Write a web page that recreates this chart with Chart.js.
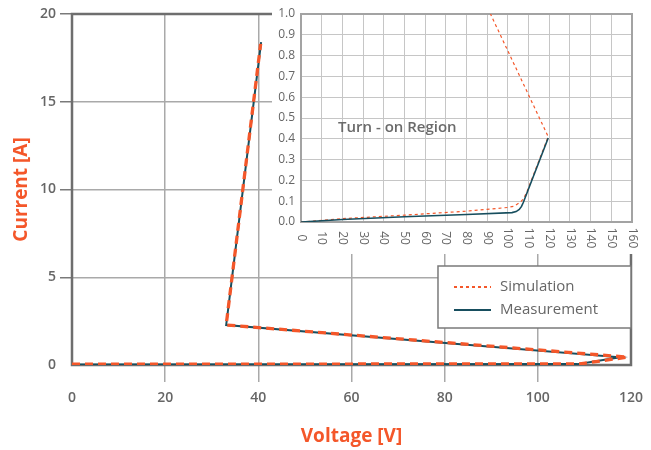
<!DOCTYPE html>
<html><head><meta charset="utf-8">
<script src="https://cdn.jsdelivr.net/npm/chart.js@4.4.0/dist/chart.umd.min.js"></script>
<style>
html,body{margin:0;padding:0;background:#fff;}
#wrap{position:relative;width:651px;height:450px;overflow:hidden;}
#main{position:absolute;left:0;top:0;}
#insetWrap{position:absolute;left:272px;top:0;width:379px;height:254px;background:#fff;}
#inset{position:absolute;left:0;top:0;}
</style></head><body>
<div id="wrap">
<canvas id="main" width="651" height="450"></canvas>
<div id="insetWrap"><canvas id="inset" width="379" height="254"></canvas></div>
</div>
<script>
// ---------- data ----------
const mainSimVoltage  = [0, 109, 119.2, 33.1, 40.5];
const mainSimCurrent  = [0.05, 0.06, 0.45, 2.28, 18.3];
const mainMeasVoltage = [0, 108.5, 117.6, 33.1, 40.6];
const mainMeasCurrent = [0.03, 0.05, 0.44, 2.28, 18.4];

const insetSimVoltage  = [0, 20, 50, 80, 100, 103, 106, 107.4, 109, 119.5, 91.6];
const insetSimCurrent  = [0, 0.016, 0.033, 0.052, 0.07, 0.076, 0.095, 0.11, 0.14, 0.41, 1.0];
const insetMeasVoltage = [0, 20, 50, 80, 102, 104, 105.5, 106.6, 107.5, 119.5];
const insetMeasCurrent = [0, 0.012, 0.025, 0.036, 0.045, 0.05, 0.06, 0.075, 0.095, 0.404];

const mainXTicks = [0, 20, 40, 60, 80, 100, 120];
const mainYTicks = [0, 5, 10, 15, 20];
const insetXTicks = [0,10,20,30,40,50,60,70,80,90,100,110,120,130,140,150,160];
const insetYTicks = [0,0.1,0.2,0.3,0.4,0.5,0.6,0.7,0.8,0.9,1.0];

const seriesNames = ['Simulation', 'Measurement'];
const insetLabel = 'Turn - on Region';

// ---------- styles ----------
const FONT = "'Open Sans', 'Noto Sans', sans-serif";
const ORANGE = '#f4572a';
const TEAL = '#174e5e';
const TXT = '#666666';

function pts(xs, ys){ return xs.map((x,i)=>({x:x, y:ys[i]})); }

const boxPlugin = {
  id: 'box',
  beforeDatasetsDraw(chart, args, opts){
    const a = chart.chartArea, ctx = chart.ctx;
    ctx.save();
    ctx.strokeStyle = opts.color; ctx.lineWidth = opts.width;
    ctx.strokeRect(a.left, a.top, a.right - a.left, a.bottom - a.top);
    ctx.restore();
  }
};

const legendPlugin = {
  id: 'ownLegend',
  afterDraw(chart){
    const a = chart.chartArea, ctx = chart.ctx;
    const w = 193, h = 62;
    const x0 = a.right - w, y0 = 266;
    ctx.save();
    ctx.fillStyle = '#fff';
    ctx.fillRect(x0, y0, w, h);
    ctx.strokeStyle = '#7a7a7a'; ctx.lineWidth = 1.5;
    ctx.strokeRect(x0, y0, w, h);
    const ds = chart.data.datasets;
    const rows = [{d: ds[0], y: y0 + 21, dash: [3,3]}, {d: ds[1], y: y0 + 44, dash: []}];
    rows.forEach(r => {
      ctx.beginPath();
      ctx.setLineDash(r.dash);
      ctx.strokeStyle = r.d.borderColor; ctx.lineWidth = 2;
      ctx.moveTo(x0 + 16, r.y); ctx.lineTo(x0 + 53, r.y); ctx.stroke();
      ctx.setLineDash([]);
      ctx.fillStyle = TXT;
      ctx.font = '500 15px ' + FONT;
      ctx.textAlign = 'left'; ctx.textBaseline = 'middle';
      ctx.fillText(r.d.label, x0 + 62, r.y);
    });
    ctx.restore();
  }
};

const transparent = 'rgba(0,0,0,0)';

new Chart(document.getElementById('main'), {
  type: 'line',
  data: {
    datasets: [
      { label: seriesNames[0], data: pts(mainSimVoltage, mainSimCurrent), borderColor: ORANGE,
        borderWidth: 3.3, borderDash: [8,5], pointRadius: 0, tension: 0, fill: false },
      { label: seriesNames[1], data: pts(mainMeasVoltage, mainMeasCurrent), borderColor: TEAL,
        borderWidth: 2, pointRadius: 0, tension: 0, fill: false }
    ]
  },
  options: {
    responsive: false, animation: false, devicePixelRatio: 1,
    layout: { padding: { top: 14, right: 19, left: 0, bottom: 0 } },
    plugins: { legend: { display: false }, tooltip: { enabled: false },
      box: { color: '#6e6e6e', width: 2.5 } },
    scales: {
      x: {
        type: 'linear', min: mainXTicks[0], max: mainXTicks[mainXTicks.length-1],
        afterBuildTicks: s => { s.ticks = mainXTicks.map(v => ({value: v})); },
        afterFit: s => { s.height = 85; },
        ticks: { color: TXT, font: { family: FONT, size: 14, weight: '600' }, padding: 8, maxRotation: 0 },
        grid: {
          color: c => (c.tick && (c.tick.value === 0 || c.tick.value === 120)) ? transparent : '#a9a9a9',
          tickColor: c => (c.tick && (c.tick.value === 0 || c.tick.value === 120)) ? transparent : '#a9a9a9',
          lineWidth: 1.5, tickLength: 17
        },
        border: { display: false },
        title: { display: true, text: 'Voltage [V]', color: ORANGE,
          font: { family: FONT, size: 19, weight: 'bold' }, padding: { top: 0, bottom: 2 } }
      },
      y: {
        type: 'linear', min: mainYTicks[0], max: mainYTicks[mainYTicks.length-1],
        afterBuildTicks: s => { s.ticks = mainYTicks.map(v => ({value: v})); },
        afterFit: s => { s.width = 72; },
        ticks: { color: TXT, font: { family: FONT, size: 14, weight: '600' }, padding: 4 },
        grid: {
          color: c => (c.tick && (c.tick.value === 0 || c.tick.value === 20)) ? transparent : '#a9a9a9',
          tickColor: c => (c.tick && c.tick.value === 0) ? transparent : '#7a7a7a',
          lineWidth: 1.5, tickLength: 12
        },
        border: { display: false },
        title: { display: true, text: 'Current [A]', color: ORANGE,
          font: { family: FONT, size: 19, weight: 'bold' }, padding: { top: 10.5, bottom: 0 } }
      }
    }
  },
  plugins: [boxPlugin, legendPlugin]
});

const insetPlugin = {
  id: 'insetExtras',
  afterDraw(chart){
    const ctx = chart.ctx, xs = chart.scales.x, ys = chart.scales.y;
    ctx.save();
    ctx.fillStyle = TXT;
    ctx.font = '500 12px ' + FONT;
    ctx.textAlign = 'center'; ctx.textBaseline = 'middle';
    insetXTicks.forEach(v => {
      const px = xs.getPixelForValue(v);
      ctx.save();
      ctx.translate(px, xs.top + 16);
      ctx.rotate(Math.PI / 2);
      ctx.fillText(String(v), 0, 0);
      ctx.restore();
    });
    ctx.font = '600 15px ' + FONT;
    ctx.fillStyle = '#6a6a6a';
    ctx.textAlign = 'left';
    ctx.fillText(insetLabel, xs.getPixelForValue(17.9), ys.getPixelForValue(0.455));
    ctx.restore();
  }
};

new Chart(document.getElementById('inset'), {
  type: 'line',
  data: {
    datasets: [
      { label: seriesNames[1], data: pts(insetMeasVoltage, insetMeasCurrent), borderColor: TEAL,
        borderWidth: 1.6, pointRadius: 0, tension: 0, fill: false },
      { label: seriesNames[0], data: pts(insetSimVoltage, insetSimCurrent), borderColor: ORANGE,
        borderWidth: 1.2, borderDash: [3,3], pointRadius: 0, tension: 0, fill: false }
    ]
  },
  options: {
    responsive: false, animation: false, devicePixelRatio: 1,
    layout: { padding: { top: 14, right: 19, left: 0, bottom: 0 } },
    plugins: { legend: { display: false }, tooltip: { enabled: false },
      box: { color: '#a3a3a3', width: 2 } },
    scales: {
      x: {
        type: 'linear', min: 0, max: 160,
        afterBuildTicks: s => { s.ticks = insetXTicks.map(v => ({value: v})); },
        afterFit: s => { s.height = 32; },
        ticks: { display: false },
        grid: { color: '#c6c6c6', lineWidth: 1, drawTicks: false },
        border: { display: false }
      },
      y: {
        type: 'linear', min: 0, max: 1,
        afterBuildTicks: s => { s.ticks = insetYTicks.map(v => ({value: v})); },
        afterFit: s => { s.width = 29; },
        ticks: { color: TXT, font: { family: FONT, size: 12, weight: '500' }, padding: 6,
          callback: v => Number(v).toFixed(1) },
        grid: { color: '#c6c6c6', lineWidth: 1, drawTicks: false },
        border: { display: false }
      }
    }
  },
  plugins: [boxPlugin, insetPlugin]
});
</script>
</body></html>
